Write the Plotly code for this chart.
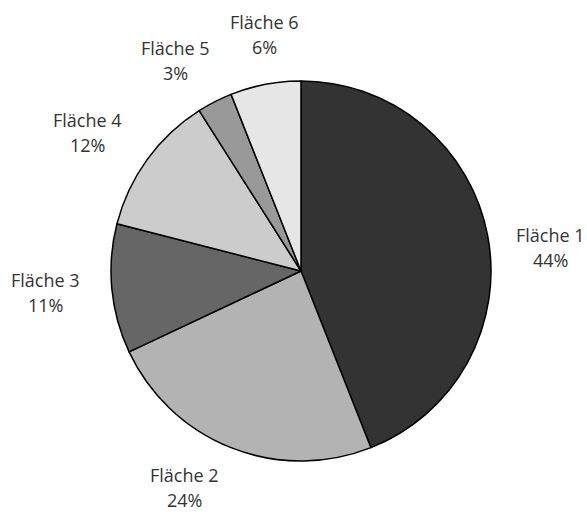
import math
import plotly.graph_objects as go

labels = ["Fläche 1", "Fläche 2", "Fläche 3", "Fläche 4", "Fläche 5", "Fläche 6"]
values = [44, 24, 11, 12, 3, 6]

colors = ["#333333", "#b3b3b3", "#666666", "#cccccc", "#999999", "#e6e6e6"]
# per-label fine tuning of label placement (pixels, right / down)
label_offset_px = [(4, 23), (-24, -16), (-7, -2), (-11, 8), (-12, 12), (10, 9)]
line_gap = 25  # px between the two label lines

W, H = 587, 512
cx, cy, r = 301, 271, 190
label_r = 250

fig = go.Figure(go.Pie(
    labels=labels,
    values=values,
    sort=False,
    direction="clockwise",
    rotation=0,
    textinfo="none",
    hoverinfo="label+percent",
    marker=dict(colors=colors, line=dict(color="#000000", width=1.5)),
    domain=dict(x=[(cx - r) / W, (cx + r) / W], y=[(H - cy - r) / H, (H - cy + r) / H]),
    showlegend=False,
))

total = sum(values)
cum = 0
annotations = []
font = dict(family="Open Sans", size=18, color="#333333")
for lab, v, (ox, oy) in zip(labels, values, label_offset_px):
    mid = (cum + v / 2) / total * 2 * math.pi
    cum += v
    px = cx + label_r * math.sin(mid)
    py = cy - label_r * math.cos(mid)
    for txt, dy in ((lab, -line_gap / 2), (f"{v / total * 100:.0f}%", line_gap / 2)):
        annotations.append(dict(
            x=px / W, y=1 - py / H, xref="paper", yref="paper",
            text=txt, showarrow=False, xanchor="center", yanchor="middle",
            xshift=ox, yshift=-(oy + dy), align="center", font=font,
        ))

fig.update_layout(
    width=W, height=H,
    margin=dict(l=0, r=0, t=0, b=0),
    paper_bgcolor="white", plot_bgcolor="white",
    annotations=annotations,
)

fig.write_html("out.html")
